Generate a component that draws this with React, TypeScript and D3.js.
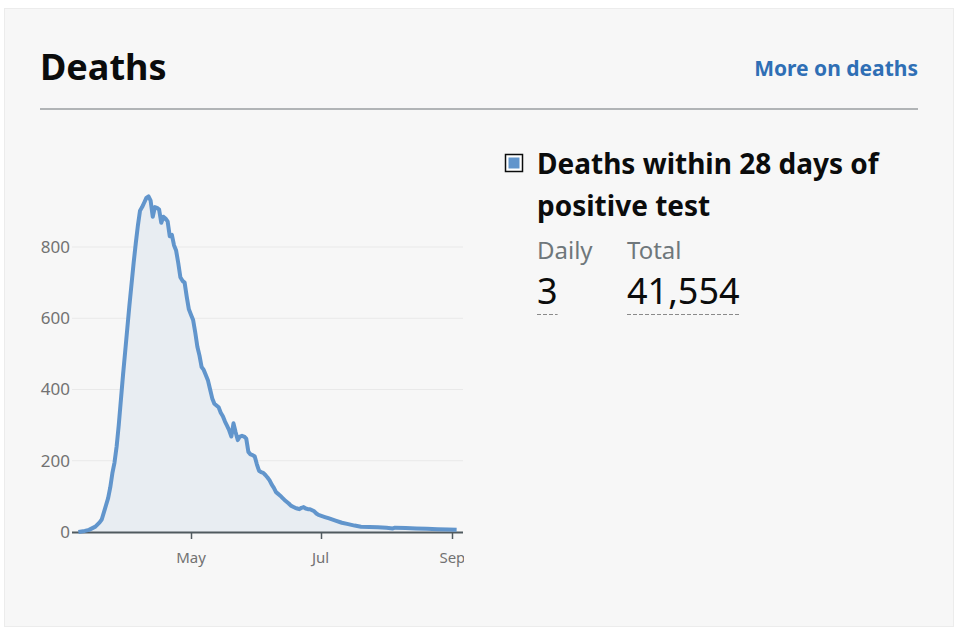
import React, { useEffect, useRef } from "react";
import * as d3 from "d3";

// daily deaths (2020)
const dates = [
  "2020-03-09", "2020-03-12", "2020-03-14", "2020-03-17", "2020-03-19", "2020-03-20",
  "2020-03-22", "2020-03-23", "2020-03-24", "2020-03-25", "2020-03-26", "2020-03-27",
  "2020-03-28", "2020-03-29", "2020-03-30", "2020-03-31", "2020-04-01", "2020-04-02",
  "2020-04-03", "2020-04-04", "2020-04-05", "2020-04-06", "2020-04-07", "2020-04-08",
  "2020-04-09", "2020-04-10", "2020-04-11", "2020-04-12", "2020-04-13", "2020-04-14",
  "2020-04-15", "2020-04-16", "2020-04-17", "2020-04-18", "2020-04-19", "2020-04-20",
  "2020-04-21", "2020-04-22", "2020-04-23", "2020-04-24", "2020-04-25", "2020-04-26",
  "2020-04-27", "2020-04-28", "2020-04-29", "2020-04-30", "2020-05-01", "2020-05-02",
  "2020-05-03", "2020-05-04", "2020-05-05", "2020-05-06", "2020-05-07", "2020-05-08",
  "2020-05-09", "2020-05-10", "2020-05-11", "2020-05-12", "2020-05-13", "2020-05-14",
  "2020-05-15", "2020-05-16", "2020-05-17", "2020-05-18", "2020-05-19", "2020-05-20",
  "2020-05-21", "2020-05-22", "2020-05-23", "2020-05-24", "2020-05-25", "2020-05-26",
  "2020-05-27", "2020-05-28", "2020-05-29", "2020-05-30", "2020-05-31", "2020-06-01",
  "2020-06-02", "2020-06-03", "2020-06-04", "2020-06-05", "2020-06-06", "2020-06-07",
  "2020-06-08", "2020-06-09", "2020-06-10", "2020-06-11", "2020-06-12", "2020-06-13",
  "2020-06-14", "2020-06-15", "2020-06-16", "2020-06-17", "2020-06-18", "2020-06-19",
  "2020-06-20", "2020-06-21", "2020-06-22", "2020-06-23", "2020-06-24", "2020-06-25",
  "2020-06-26", "2020-06-27", "2020-06-28", "2020-06-29", "2020-06-30", "2020-07-01",
  "2020-07-03", "2020-07-05", "2020-07-08", "2020-07-11", "2020-07-14", "2020-07-17",
  "2020-07-20", "2020-07-24", "2020-07-28", "2020-08-01", "2020-08-04", "2020-08-05",
  "2020-08-10", "2020-08-15", "2020-08-20", "2020-08-25", "2020-08-30", "2020-09-03",
];

const deaths = [
  0, 3, 6, 15, 27, 35,
  75, 95, 125, 165, 195, 240,
  300, 370, 440, 505, 570, 635,
  695, 755, 810, 860, 902, 912,
  925, 938, 942, 930, 885, 912,
  910, 905, 868, 885, 880, 872,
  830, 834, 805, 790, 755, 715,
  705, 700, 660, 625, 610, 595,
  560, 520, 495, 463, 455, 440,
  425, 400, 375, 360, 355, 350,
  335, 325, 310, 298, 285, 268,
  305, 280, 258, 268, 270, 268,
  262, 225, 218, 216, 212, 190,
  172, 168, 166, 160, 153, 145,
  133, 124, 112, 107, 102, 96,
  90, 85, 80, 74, 71, 68,
  66, 64, 68, 70, 66, 64,
  64, 61, 58, 52, 48, 46,
  42, 38, 32, 26, 22, 18,
  15, 14, 13, 12, 10, 12,
  11, 10, 9, 8, 7, 6,
];

const yTicks = [0, 200, 400, 600, 800];
const xTicks = ["2020-05-01", "2020-07-01", "2020-09-01"];
const xDomain = ["2020-03-06", "2020-09-06"];

const title = "Deaths";
const moreLink = "More on deaths";
const seriesLabel = ["Deaths within 28 days of", "positive test"];
const dailyValue = "3";
const totalValue = "41,554";

const font = "'Noto Sans', Roboto, sans-serif";

const App = () => {
  const svgRef = useRef<SVGSVGElement>(null);

  useEffect(() => {
    const parse = d3.timeParse("%Y-%m-%d");
    const data = dates.map((d, i) => ({ date: parse(d) as Date, value: deaths[i] }));

    const svg = d3.select(svgRef.current);
    svg.selectAll("*").remove();

    // card
    svg.append("rect").attr("width", 960).attr("height", 632).attr("fill", "#fff");
    svg
      .append("rect")
      .attr("x", 4.5)
      .attr("y", 8.5)
      .attr("width", 949)
      .attr("height", 618)
      .attr("fill", "#f7f7f7")
      .attr("stroke", "#ececec");

    // header
    svg
      .append("text")
      .attr("x", 40)
      .attr("y", 80)
      .attr("font-family", font)
      .attr("font-weight", 700)
      .attr("font-size", 36)
      .attr("fill", "#0b0c0c")
      .text(title);

    svg
      .append("text")
      .attr("x", 918)
      .attr("y", 76)
      .attr("text-anchor", "end")
      .attr("font-family", font)
      .attr("font-weight", 700)
      .attr("font-size", 21)
      .attr("fill", "#2f6fb5")
      .text(moreLink);

    svg
      .append("line")
      .attr("x1", 40)
      .attr("x2", 918)
      .attr("y1", 109)
      .attr("y2", 109)
      .attr("stroke", "#b1b4b6")
      .attr("stroke-width", 2);

    // chart
    const x = d3
      .scaleTime()
      .domain(xDomain.map((d) => parse(d) as Date))
      .range([72, 463]);
    const y = d3.scaleLinear().domain([0, 800]).range([532, 247]);

    const g = svg.append("g");

    g.selectAll(".grid")
      .data(yTicks.slice(1))
      .enter()
      .append("line")
      .attr("x1", 72)
      .attr("x2", 463)
      .attr("y1", (d) => y(d))
      .attr("y2", (d) => y(d))
      .attr("stroke", "#e9e9e9")
      .attr("stroke-width", 1);

    g.selectAll(".ylab")
      .data(yTicks)
      .enter()
      .append("text")
      .attr("x", 70)
      .attr("y", (d) => y(d))
      .attr("dy", "0.35em")
      .attr("text-anchor", "end")
      .attr("font-family", font)
      .attr("font-size", 17)
      .attr("fill", "#727272")
      .text((d) => d);

    const area = d3
      .area<{ date: Date; value: number }>()
      .x((d) => x(d.date))
      .y0(y(0))
      .y1((d) => y(d.value));

    const line = d3
      .line<{ date: Date; value: number }>()
      .x((d) => x(d.date))
      .y((d) => y(d.value));

    g.append("path").datum(data).attr("fill", "#e8edf2").attr("d", area);

    // x axis
    g.append("line")
      .attr("x1", 72)
      .attr("x2", 463)
      .attr("y1", 532.5)
      .attr("y2", 532.5)
      .attr("stroke", "#505a5f")
      .attr("stroke-width", 2);

    const xt = xTicks.map((d) => parse(d) as Date);
    g.selectAll(".xtick")
      .data(xt)
      .enter()
      .append("line")
      .attr("x1", (d) => Math.round(x(d)) + 0.5)
      .attr("x2", (d) => Math.round(x(d)) + 0.5)
      .attr("y1", 533)
      .attr("y2", 539)
      .attr("stroke", "#505a5f")
      .attr("stroke-width", 1.5);

    g.selectAll(".xlab")
      .data(xt)
      .enter()
      .append("text")
      .attr("x", (d) => x(d))
      .attr("y", 563)
      .attr("text-anchor", "middle")
      .attr("font-family", font)
      .attr("font-size", 15)
      .attr("fill", "#727272")
      .text((d) => d3.timeFormat("%b")(d));

    // clip the Sep label at the plot edge like the original
    svg
      .append("rect")
      .attr("x", 464)
      .attr("y", 545)
      .attr("width", 20)
      .attr("height", 25)
      .attr("fill", "#f7f7f7");

    g.append("path")
      .datum(data)
      .attr("fill", "none")
      .attr("stroke", "#6195cc")
      .attr("stroke-width", 4)
      .attr("stroke-linejoin", "round")
      .attr("d", line);

    // legend / headline numbers
    const lg = svg.append("g");
    lg.append("rect")
      .attr("x", 505.5)
      .attr("y", 154.5)
      .attr("width", 17)
      .attr("height", 17)
      .attr("fill", "#fff")
      .attr("stroke", "#0b0c0c")
      .attr("stroke-width", 1.5);
    lg.append("rect")
      .attr("x", 508.5)
      .attr("y", 157.5)
      .attr("width", 11)
      .attr("height", 11)
      .attr("fill", "#6195cc");

    seriesLabel.forEach((t, i) => {
      lg.append("text")
        .attr("x", 537)
        .attr("y", 174 + i * 42)
        .attr("font-family", font)
        .attr("font-weight", 700)
        .attr("font-size", 28)
        .attr("fill", "#0b0c0c")
        .text(t);
    });

    const cols = [
      { label: "Daily", value: dailyValue, x: 537 },
      { label: "Total", value: totalValue, x: 627 },
    ];
    cols.forEach((c) => {
      lg.append("text")
        .attr("x", c.x)
        .attr("y", 259)
        .attr("font-family", font)
        .attr("font-size", 24)
        .attr("fill", "#6f777b")
        .text(c.label);
      const v = lg
        .append("text")
        .attr("x", c.x)
        .attr("y", 304)
        .attr("font-family", font)
        .attr("font-size", 36)
        .attr("fill", "#0b0c0c")
        .text(c.value);
      const w = (v.node() as SVGTextElement).getComputedTextLength();
      lg.append("line")
        .attr("x1", c.x)
        .attr("x2", c.x + w)
        .attr("y1", 314.5)
        .attr("y2", 314.5)
        .attr("stroke", "#8a8a8a")
        .attr("stroke-dasharray", "4,2");
    });
  }, []);

  return (
    <svg
      ref={svgRef}
      width={960}
      height={632}
      style={{ position: "absolute", left: 0, top: 0 }}
    />
  );
};

export default App;
